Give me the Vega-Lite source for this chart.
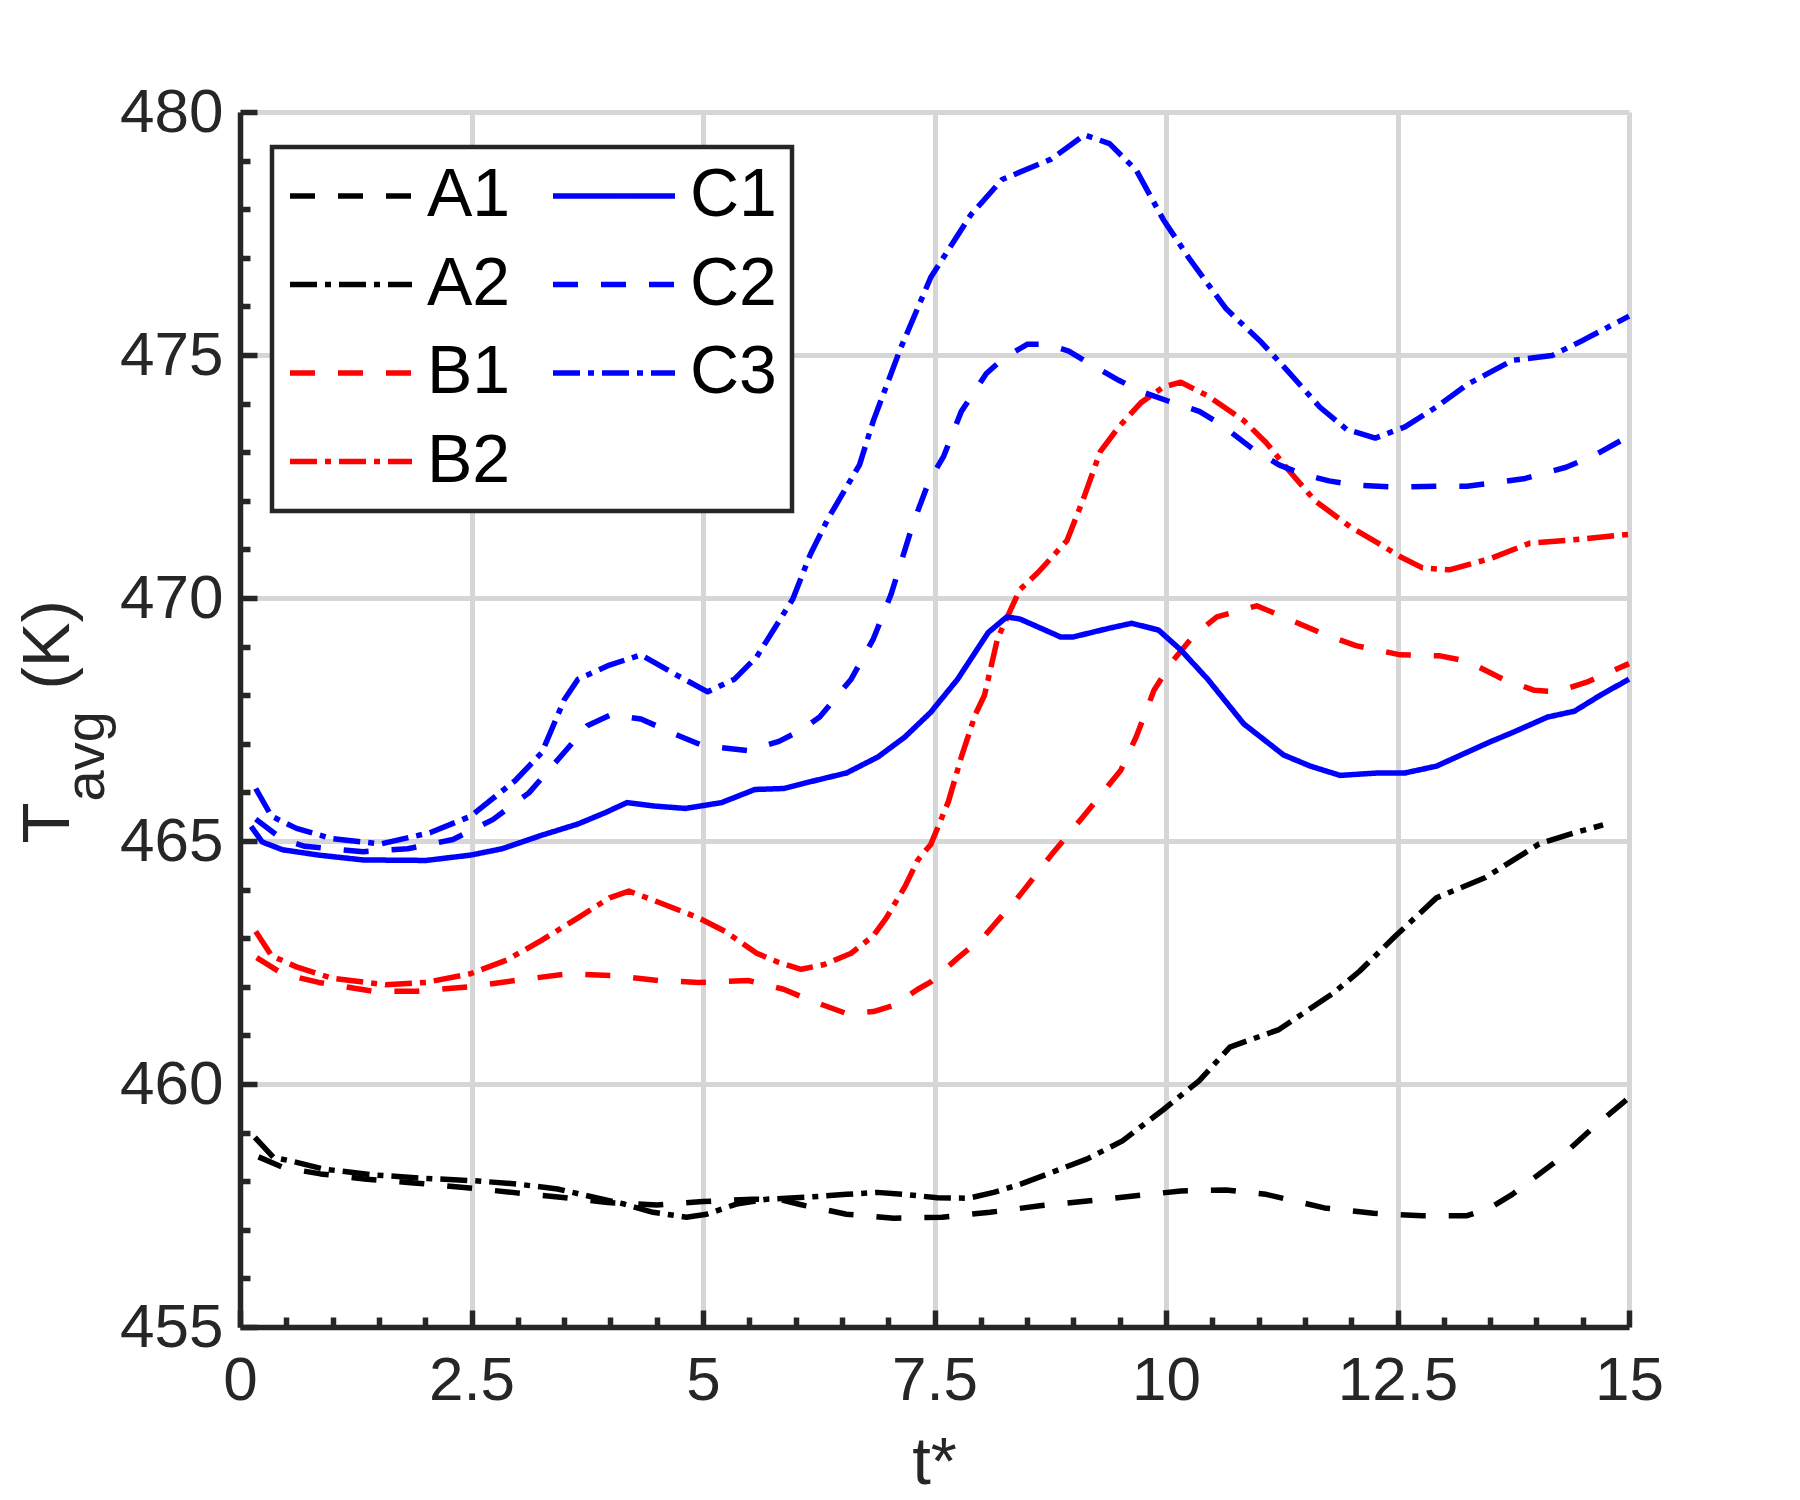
{
  "$schema": "https://vega.github.io/schema/vega-lite/v6.json",
  "width": 1389,
  "height": 1215,
  "autosize": {"type": "none"},
  "padding": {"left": 240, "top": 112, "right": 171, "bottom": 173},
  "background": "white",
  "data": {
    "values": [
      {"run": "A1", "t": 0.2, "T": 458.5}, {"run": "A1", "t": 0.47, "T": 458.28}, {"run": "A1", "t": 0.87, "T": 458.15},
      {"run": "A1", "t": 1.37, "T": 458.04}, {"run": "A1", "t": 1.91, "T": 457.96}, {"run": "A1", "t": 2.42, "T": 457.87},
      {"run": "A1", "t": 2.94, "T": 457.77}, {"run": "A1", "t": 3.46, "T": 457.67}, {"run": "A1", "t": 3.97, "T": 457.56},
      {"run": "A1", "t": 4.5, "T": 457.51}, {"run": "A1", "t": 5.0, "T": 457.58}, {"run": "A1", "t": 5.54, "T": 457.63},
      {"run": "A1", "t": 5.83, "T": 457.62}, {"run": "A1", "t": 6.05, "T": 457.52}, {"run": "A1", "t": 6.55, "T": 457.32},
      {"run": "A1", "t": 7.06, "T": 457.24}, {"run": "A1", "t": 7.58, "T": 457.26}, {"run": "A1", "t": 8.1, "T": 457.36},
      {"run": "A1", "t": 8.66, "T": 457.5}, {"run": "A1", "t": 9.39, "T": 457.64}, {"run": "A1", "t": 10.16, "T": 457.8},
      {"run": "A1", "t": 10.65, "T": 457.82}, {"run": "A1", "t": 11.08, "T": 457.73}, {"run": "A1", "t": 11.71, "T": 457.45},
      {"run": "A1", "t": 12.24, "T": 457.34}, {"run": "A1", "t": 12.77, "T": 457.29}, {"run": "A1", "t": 13.25, "T": 457.29},
      {"run": "A1", "t": 13.5, "T": 457.45}, {"run": "A1", "t": 13.74, "T": 457.73}, {"run": "A1", "t": 14.22, "T": 458.42},
      {"run": "A1", "t": 14.61, "T": 459.1}, {"run": "A1", "t": 15.0, "T": 459.72},

      {"run": "A2", "t": 0.16, "T": 458.9}, {"run": "A2", "t": 0.36, "T": 458.49}, {"run": "A2", "t": 0.54, "T": 458.42},
      {"run": "A2", "t": 0.9, "T": 458.25}, {"run": "A2", "t": 1.44, "T": 458.13}, {"run": "A2", "t": 1.98, "T": 458.06},
      {"run": "A2", "t": 2.53, "T": 458.01}, {"run": "A2", "t": 3.0, "T": 457.94}, {"run": "A2", "t": 3.43, "T": 457.84},
      {"run": "A2", "t": 3.82, "T": 457.67}, {"run": "A2", "t": 4.15, "T": 457.53}, {"run": "A2", "t": 4.46, "T": 457.36},
      {"run": "A2", "t": 4.82, "T": 457.26}, {"run": "A2", "t": 5.04, "T": 457.32}, {"run": "A2", "t": 5.36, "T": 457.53},
      {"run": "A2", "t": 5.69, "T": 457.63}, {"run": "A2", "t": 6.12, "T": 457.67}, {"run": "A2", "t": 6.55, "T": 457.73},
      {"run": "A2", "t": 6.88, "T": 457.77}, {"run": "A2", "t": 7.17, "T": 457.73}, {"run": "A2", "t": 7.53, "T": 457.66},
      {"run": "A2", "t": 7.87, "T": 457.65}, {"run": "A2", "t": 8.14, "T": 457.77}, {"run": "A2", "t": 8.43, "T": 457.94},
      {"run": "A2", "t": 8.71, "T": 458.14}, {"run": "A2", "t": 9.15, "T": 458.46}, {"run": "A2", "t": 9.53, "T": 458.83},
      {"run": "A2", "t": 9.97, "T": 459.47}, {"run": "A2", "t": 10.36, "T": 460.07}, {"run": "A2", "t": 10.69, "T": 460.76},
      {"run": "A2", "t": 11.22, "T": 461.12}, {"run": "A2", "t": 11.8, "T": 461.86}, {"run": "A2", "t": 12.09, "T": 462.32},
      {"run": "A2", "t": 12.48, "T": 463.05}, {"run": "A2", "t": 12.92, "T": 463.83}, {"run": "A2", "t": 13.45, "T": 464.25},
      {"run": "A2", "t": 14.03, "T": 464.94}, {"run": "A2", "t": 14.41, "T": 465.17}, {"run": "A2", "t": 14.72, "T": 465.33},

      {"run": "B1", "t": 0.18, "T": 462.6}, {"run": "B1", "t": 0.46, "T": 462.27}, {"run": "B1", "t": 0.85, "T": 462.09},
      {"run": "B1", "t": 1.43, "T": 461.91}, {"run": "B1", "t": 1.91, "T": 461.91}, {"run": "B1", "t": 2.49, "T": 462.0},
      {"run": "B1", "t": 2.97, "T": 462.13}, {"run": "B1", "t": 3.55, "T": 462.27}, {"run": "B1", "t": 4.04, "T": 462.23},
      {"run": "B1", "t": 4.52, "T": 462.13}, {"run": "B1", "t": 4.95, "T": 462.09}, {"run": "B1", "t": 5.49, "T": 462.13},
      {"run": "B1", "t": 5.87, "T": 461.95}, {"run": "B1", "t": 6.16, "T": 461.72}, {"run": "B1", "t": 6.55, "T": 461.45},
      {"run": "B1", "t": 6.84, "T": 461.49}, {"run": "B1", "t": 7.08, "T": 461.63}, {"run": "B1", "t": 7.32, "T": 461.95},
      {"run": "B1", "t": 7.46, "T": 462.1}, {"run": "B1", "t": 7.75, "T": 462.59}, {"run": "B1", "t": 8.04, "T": 463.05},
      {"run": "B1", "t": 8.42, "T": 463.88}, {"run": "B1", "t": 8.76, "T": 464.71}, {"run": "B1", "t": 9.1, "T": 465.49},
      {"run": "B1", "t": 9.51, "T": 466.45}, {"run": "B1", "t": 9.68, "T": 467.15}, {"run": "B1", "t": 9.87, "T": 468.1},
      {"run": "B1", "t": 10.07, "T": 468.7}, {"run": "B1", "t": 10.31, "T": 469.25}, {"run": "B1", "t": 10.55, "T": 469.61},
      {"run": "B1", "t": 10.98, "T": 469.84}, {"run": "B1", "t": 11.32, "T": 469.57}, {"run": "B1", "t": 11.71, "T": 469.25},
      {"run": "B1", "t": 12.05, "T": 469.02}, {"run": "B1", "t": 12.53, "T": 468.83}, {"run": "B1", "t": 12.96, "T": 468.81},
      {"run": "B1", "t": 13.25, "T": 468.7}, {"run": "B1", "t": 13.64, "T": 468.33}, {"run": "B1", "t": 13.98, "T": 468.1},
      {"run": "B1", "t": 14.22, "T": 468.07}, {"run": "B1", "t": 14.56, "T": 468.28}, {"run": "B1", "t": 15.0, "T": 468.65},

      {"run": "B2", "t": 0.17, "T": 463.14}, {"run": "B2", "t": 0.34, "T": 462.64}, {"run": "B2", "t": 0.61, "T": 462.41},
      {"run": "B2", "t": 0.99, "T": 462.18}, {"run": "B2", "t": 1.57, "T": 462.04}, {"run": "B2", "t": 2.01, "T": 462.09},
      {"run": "B2", "t": 2.49, "T": 462.27}, {"run": "B2", "t": 2.88, "T": 462.55}, {"run": "B2", "t": 3.26, "T": 462.96},
      {"run": "B2", "t": 3.65, "T": 463.42}, {"run": "B2", "t": 3.99, "T": 463.83}, {"run": "B2", "t": 4.2, "T": 463.97},
      {"run": "B2", "t": 4.52, "T": 463.74}, {"run": "B2", "t": 4.95, "T": 463.42}, {"run": "B2", "t": 5.24, "T": 463.14},
      {"run": "B2", "t": 5.58, "T": 462.69}, {"run": "B2", "t": 5.82, "T": 462.5}, {"run": "B2", "t": 6.06, "T": 462.36},
      {"run": "B2", "t": 6.31, "T": 462.46}, {"run": "B2", "t": 6.6, "T": 462.69}, {"run": "B2", "t": 6.84, "T": 463.05},
      {"run": "B2", "t": 6.98, "T": 463.42}, {"run": "B2", "t": 7.18, "T": 464.06}, {"run": "B2", "t": 7.32, "T": 464.61},
      {"run": "B2", "t": 7.46, "T": 464.93}, {"run": "B2", "t": 7.65, "T": 465.81}, {"run": "B2", "t": 7.79, "T": 466.73},
      {"run": "B2", "t": 7.94, "T": 467.6}, {"run": "B2", "t": 8.04, "T": 468.0}, {"run": "B2", "t": 8.18, "T": 469.16},
      {"run": "B2", "t": 8.42, "T": 470.17}, {"run": "B2", "t": 8.62, "T": 470.53}, {"run": "B2", "t": 8.93, "T": 471.18},
      {"run": "B2", "t": 9.1, "T": 472.0}, {"run": "B2", "t": 9.29, "T": 473.01}, {"run": "B2", "t": 9.49, "T": 473.52},
      {"run": "B2", "t": 9.73, "T": 474.02}, {"run": "B2", "t": 9.97, "T": 474.34}, {"run": "B2", "t": 10.16, "T": 474.44},
      {"run": "B2", "t": 10.45, "T": 474.16}, {"run": "B2", "t": 10.84, "T": 473.65}, {"run": "B2", "t": 11.08, "T": 473.2},
      {"run": "B2", "t": 11.32, "T": 472.64}, {"run": "B2", "t": 11.61, "T": 472.0}, {"run": "B2", "t": 12.0, "T": 471.45},
      {"run": "B2", "t": 12.29, "T": 471.13}, {"run": "B2", "t": 12.53, "T": 470.85}, {"run": "B2", "t": 12.77, "T": 470.62},
      {"run": "B2", "t": 13.06, "T": 470.58}, {"run": "B2", "t": 13.5, "T": 470.81}, {"run": "B2", "t": 13.93, "T": 471.13},
      {"run": "B2", "t": 14.36, "T": 471.19}, {"run": "B2", "t": 15.0, "T": 471.31},

      {"run": "C1", "t": 0.12, "T": 465.3}, {"run": "C1", "t": 0.24, "T": 464.98}, {"run": "C1", "t": 0.46, "T": 464.82},
      {"run": "C1", "t": 0.85, "T": 464.71}, {"run": "C1", "t": 1.33, "T": 464.61}, {"run": "C1", "t": 2.01, "T": 464.6},
      {"run": "C1", "t": 2.49, "T": 464.71}, {"run": "C1", "t": 2.83, "T": 464.84}, {"run": "C1", "t": 3.26, "T": 465.12},
      {"run": "C1", "t": 3.65, "T": 465.35}, {"run": "C1", "t": 3.94, "T": 465.58}, {"run": "C1", "t": 4.18, "T": 465.79},
      {"run": "C1", "t": 4.47, "T": 465.72}, {"run": "C1", "t": 4.81, "T": 465.67}, {"run": "C1", "t": 5.2, "T": 465.79},
      {"run": "C1", "t": 5.56, "T": 466.06}, {"run": "C1", "t": 5.87, "T": 466.08}, {"run": "C1", "t": 6.16, "T": 466.22},
      {"run": "C1", "t": 6.55, "T": 466.4}, {"run": "C1", "t": 6.89, "T": 466.73}, {"run": "C1", "t": 7.18, "T": 467.14},
      {"run": "C1", "t": 7.46, "T": 467.65}, {"run": "C1", "t": 7.75, "T": 468.33}, {"run": "C1", "t": 8.08, "T": 469.29},
      {"run": "C1", "t": 8.28, "T": 469.61}, {"run": "C1", "t": 8.42, "T": 469.57}, {"run": "C1", "t": 8.86, "T": 469.2},
      {"run": "C1", "t": 9.0, "T": 469.2}, {"run": "C1", "t": 9.39, "T": 469.38}, {"run": "C1", "t": 9.63, "T": 469.48},
      {"run": "C1", "t": 9.92, "T": 469.34}, {"run": "C1", "t": 10.16, "T": 468.93}, {"run": "C1", "t": 10.45, "T": 468.33},
      {"run": "C1", "t": 10.84, "T": 467.41}, {"run": "C1", "t": 11.27, "T": 466.77}, {"run": "C1", "t": 11.56, "T": 466.54},
      {"run": "C1", "t": 11.88, "T": 466.35}, {"run": "C1", "t": 12.29, "T": 466.4}, {"run": "C1", "t": 12.58, "T": 466.4},
      {"run": "C1", "t": 12.92, "T": 466.54}, {"run": "C1", "t": 13.5, "T": 467.04}, {"run": "C1", "t": 13.74, "T": 467.23},
      {"run": "C1", "t": 14.12, "T": 467.55}, {"run": "C1", "t": 14.41, "T": 467.67}, {"run": "C1", "t": 14.7, "T": 468.01},
      {"run": "C1", "t": 15.0, "T": 468.33},

      {"run": "C2", "t": 0.17, "T": 465.45}, {"run": "C2", "t": 0.46, "T": 465.03}, {"run": "C2", "t": 0.7, "T": 464.89},
      {"run": "C2", "t": 1.33, "T": 464.78}, {"run": "C2", "t": 1.81, "T": 464.84}, {"run": "C2", "t": 2.3, "T": 465.03},
      {"run": "C2", "t": 2.73, "T": 465.44}, {"run": "C2", "t": 3.12, "T": 465.99}, {"run": "C2", "t": 3.5, "T": 466.82},
      {"run": "C2", "t": 3.75, "T": 467.37}, {"run": "C2", "t": 4.01, "T": 467.6}, {"run": "C2", "t": 4.33, "T": 467.51},
      {"run": "C2", "t": 4.71, "T": 467.19}, {"run": "C2", "t": 5.0, "T": 466.96}, {"run": "C2", "t": 5.49, "T": 466.86},
      {"run": "C2", "t": 5.82, "T": 467.05}, {"run": "C2", "t": 6.06, "T": 467.28}, {"run": "C2", "t": 6.26, "T": 467.55},
      {"run": "C2", "t": 6.6, "T": 468.33}, {"run": "C2", "t": 6.84, "T": 469.16}, {"run": "C2", "t": 7.03, "T": 470.07},
      {"run": "C2", "t": 7.27, "T": 471.54}, {"run": "C2", "t": 7.44, "T": 472.4}, {"run": "C2", "t": 7.6, "T": 472.92},
      {"run": "C2", "t": 7.79, "T": 473.84}, {"run": "C2", "t": 8.06, "T": 474.62}, {"run": "C2", "t": 8.25, "T": 474.94},
      {"run": "C2", "t": 8.5, "T": 475.22}, {"run": "C2", "t": 8.71, "T": 475.22}, {"run": "C2", "t": 8.95, "T": 475.08},
      {"run": "C2", "t": 9.15, "T": 474.85}, {"run": "C2", "t": 9.49, "T": 474.48}, {"run": "C2", "t": 9.73, "T": 474.25},
      {"run": "C2", "t": 10.07, "T": 474.02}, {"run": "C2", "t": 10.36, "T": 473.84}, {"run": "C2", "t": 10.6, "T": 473.56},
      {"run": "C2", "t": 10.94, "T": 473.06}, {"run": "C2", "t": 11.22, "T": 472.74}, {"run": "C2", "t": 11.47, "T": 472.55},
      {"run": "C2", "t": 11.76, "T": 472.41}, {"run": "C2", "t": 12.05, "T": 472.32}, {"run": "C2", "t": 12.48, "T": 472.28},
      {"run": "C2", "t": 12.92, "T": 472.3}, {"run": "C2", "t": 13.25, "T": 472.3}, {"run": "C2", "t": 13.54, "T": 472.37},
      {"run": "C2", "t": 13.88, "T": 472.46}, {"run": "C2", "t": 14.32, "T": 472.69}, {"run": "C2", "t": 14.61, "T": 472.92},
      {"run": "C2", "t": 15.0, "T": 473.33},

      {"run": "C3", "t": 0.17, "T": 466.08}, {"run": "C3", "t": 0.34, "T": 465.51}, {"run": "C3", "t": 0.61, "T": 465.26},
      {"run": "C3", "t": 0.99, "T": 465.05}, {"run": "C3", "t": 1.52, "T": 464.94}, {"run": "C3", "t": 2.05, "T": 465.17},
      {"run": "C3", "t": 2.49, "T": 465.51}, {"run": "C3", "t": 2.97, "T": 466.24}, {"run": "C3", "t": 3.26, "T": 466.82},
      {"run": "C3", "t": 3.5, "T": 467.9}, {"run": "C3", "t": 3.65, "T": 468.33}, {"run": "C3", "t": 3.99, "T": 468.62},
      {"run": "C3", "t": 4.33, "T": 468.83}, {"run": "C3", "t": 4.71, "T": 468.42}, {"run": "C3", "t": 5.05, "T": 468.07},
      {"run": "C3", "t": 5.34, "T": 468.33}, {"run": "C3", "t": 5.58, "T": 468.79}, {"run": "C3", "t": 5.97, "T": 469.98},
      {"run": "C3", "t": 6.16, "T": 470.9}, {"run": "C3", "t": 6.35, "T": 471.63}, {"run": "C3", "t": 6.69, "T": 472.74},
      {"run": "C3", "t": 6.84, "T": 473.65}, {"run": "C3", "t": 7.13, "T": 475.12}, {"run": "C3", "t": 7.46, "T": 476.6},
      {"run": "C3", "t": 7.89, "T": 477.88}, {"run": "C3", "t": 8.23, "T": 478.61}, {"run": "C3", "t": 8.76, "T": 479.03},
      {"run": "C3", "t": 9.12, "T": 479.53}, {"run": "C3", "t": 9.39, "T": 479.35}, {"run": "C3", "t": 9.68, "T": 478.8},
      {"run": "C3", "t": 9.97, "T": 477.79}, {"run": "C3", "t": 10.26, "T": 476.96}, {"run": "C3", "t": 10.65, "T": 475.95},
      {"run": "C3", "t": 11.03, "T": 475.26}, {"run": "C3", "t": 11.32, "T": 474.66}, {"run": "C3", "t": 11.66, "T": 473.93},
      {"run": "C3", "t": 11.95, "T": 473.47}, {"run": "C3", "t": 12.26, "T": 473.29}, {"run": "C3", "t": 12.58, "T": 473.52},
      {"run": "C3", "t": 12.92, "T": 473.93}, {"run": "C3", "t": 13.25, "T": 474.39}, {"run": "C3", "t": 13.74, "T": 474.89},
      {"run": "C3", "t": 14.17, "T": 474.99}, {"run": "C3", "t": 14.51, "T": 475.31}, {"run": "C3", "t": 15.0, "T": 475.8}
    ]
  },
  "layer": [
    {
      "mark": {"type": "line", "strokeWidth": 5.5, "strokeCap": "butt", "strokeJoin": "round"},
      "encoding": {
        "x": {
          "field": "t",
          "type": "quantitative",
          "scale": {"domain": [0, 15], "nice": false, "zero": false},
          "axis": {
            "title": "t*",
            "values": [0, 0.5, 1, 1.5, 2, 2.5, 3, 3.5, 4, 4.5, 5, 5.5, 6, 6.5, 7, 7.5, 8, 8.5, 9, 9.5, 10, 10.5, 11, 11.5, 12, 12.5, 13, 13.5, 14, 14.5, 15],
            "format": "~g",
            "labelExpr": "datum.value % 2.5 === 0 ? datum.label : ''",
            "tickSize": {"condition": {"test": "datum.value % 2.5 === 0", "value": -17}, "value": -10},
            "gridOpacity": {"condition": {"test": "datum.value % 2.5 === 0", "value": 1}, "value": 0},
            "labelPadding": 40,
            "labelFlush": false,
            "labelOverlap": false,
            "titleX": 694,
            "titleY": 156,
            "titleAlign": "center",
            "titleBaseline": "alphabetic"
          }
        },
        "y": {
          "field": "T",
          "type": "quantitative",
          "scale": {"domain": [455, 480], "nice": false, "zero": false},
          "axis": {
            "orient": "left",
            "title": "T",
            "values": [455, 456, 457, 458, 459, 460, 461, 462, 463, 464, 465, 466, 467, 468, 469, 470, 471, 472, 473, 474, 475, 476, 477, 478, 479, 480],
            "format": "d",
            "labelExpr": "datum.value % 5 === 0 ? datum.label : ''",
            "tickSize": {"condition": {"test": "datum.value % 5 === 0", "value": -17}, "value": -10},
            "gridOpacity": {"condition": {"test": "datum.value % 5 === 0", "value": 1}, "value": 0},
            "labelPadding": 34,
            "labelFlush": false,
            "labelOverlap": false,
            "titleX": -172,
            "titleY": 731,
            "titleAngle": -90,
            "titleAlign": "left",
            "titleBaseline": "alphabetic"
          }
        },
        "color": {
          "field": "run",
          "type": "nominal",
          "scale": {
            "domain": ["A1", "A2", "B1", "B2", "C1", "C2", "C3"],
            "range": ["#000000", "#000000", "#ff0000", "#ff0000", "#0000ff", "#0000ff", "#0000ff"]
          },
          "legend": {
            "title": null,
            "orient": "none",
            "legendX": 32,
            "legendY": 35,
            "columns": 2,
            "symbolType": "stroke",
            "symbolSize": 14884,
            "symbolStrokeWidth": 5.5,
            "labelFontSize": 68,
            "labelFont": "Liberation Sans",
            "labelColor": "#000000",
            "labelOffset": 12,
            "columnPadding": 39,
            "rowPadding": 20.5,
            "padding": 15,
            "clipHeight": 68,
            "strokeColor": "#262626",
            "fillColor": "#ffffff"
          }
        },
        "strokeDash": {
          "field": "run",
          "type": "nominal",
          "scale": {
            "domain": ["A1", "A2", "B1", "B2", "C1", "C2", "C3"],
            "range": [[25, 23], [27, 8, 6, 8], [25, 23], [27, 8, 6, 8], [1, 0], [25, 23], [27, 8, 6, 8]]
          }
        }
      }
    },
    {
      "mark": {"type": "point", "opacity": 0},
      "encoding": {
        "y": {
          "field": "T",
          "type": "quantitative",
          "scale": {"domain": [455, 480], "nice": false, "zero": false},
          "axis": {
            "orient": "left",
            "title": "avg",
            "labels": false,
            "ticks": false,
            "domain": false,
            "grid": false,
            "titleFontSize": 56,
            "titleX": -137,
            "titleY": 689,
            "titleAngle": -90,
            "titleAlign": "left",
            "titleBaseline": "alphabetic"
          }
        }
      }
    },
    {
      "mark": {"type": "point", "opacity": 0},
      "encoding": {
        "y": {
          "field": "T",
          "type": "quantitative",
          "scale": {"domain": [455, 480], "nice": false, "zero": false},
          "axis": {
            "orient": "left",
            "title": "(K)",
            "labels": false,
            "ticks": false,
            "domain": false,
            "grid": false,
            "titleX": -172,
            "titleY": 577,
            "titleAngle": -90,
            "titleAlign": "left",
            "titleBaseline": "alphabetic"
          }
        }
      }
    }
  ],
  "resolve": {"axis": {"y": "independent"}},
  "config": {
    "view": {"stroke": null},
    "font": "Liberation Sans",
    "axis": {
      "labelFont": "Liberation Sans",
      "titleFont": "Liberation Sans",
      "labelFontSize": 62,
      "titleFontSize": 67,
      "titleFontWeight": "normal",
      "labelColor": "#262626",
      "titleColor": "#262626",
      "domainColor": "#262626",
      "domainWidth": 5.5,
      "tickColor": "#262626",
      "tickWidth": 5.5,
      "gridColor": "#d6d6d6",
      "gridWidth": 5
    },
    "legend": {
      "strokeWidth": 4.5
    }
  }
}
